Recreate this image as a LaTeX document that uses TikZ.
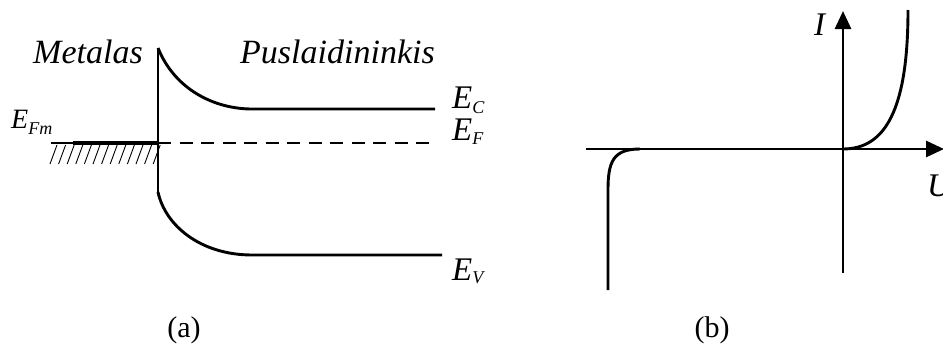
\documentclass[tikz,border=0pt]{standalone}
\usepackage{fontspec}
\setmainfont{Liberation Serif}
\usetikzlibrary{arrows.meta}
% E with a lowered italic subscript: {sub}{E size}{sub size}{lowering}
\newcommand\levlab[4]{{\fontsize{#2}{#2}\selectfont\textit{E}}\raisebox{#4}{\fontsize{#3}{#3}\selectfont\textit{#1}}}
\tikzset{
  curve/.style={line width=2.9pt},
  axis/.style={line width=2.9pt,-{Triangle[length=18pt,width=16pt]}},
  big/.style={inner sep=0pt,font=\fontsize{34}{40}\selectfont\itshape},
  lev/.style={inner sep=0pt,anchor=base west},
  captext/.style={inner sep=0pt,font=\fontsize{30}{36}\selectfont},
  hatch/.style={line width=0.9pt},
}
\begin{document}
\begin{tikzpicture}[x=1pt,y=-1pt]
\useasboundingbox (0,0) rectangle (943,343);
% ---- panel (a)
\coordinate (vtop) at (158,48);
\coordinate (vbot) at (158,192);
\coordinate (cend) at (252,109);
\coordinate (cright) at (435,109);
\coordinate (vend) at (252,255);
\coordinate (vright) at (442,255);
\coordinate (fleft) at (51,143);
\coordinate (fthick) at (73,143);
\coordinate (fmid) at (158,143);
\coordinate (fright) at (437,143);
\draw[curve] (vtop) -- (vbot);
\draw[curve] (vtop) .. controls (175,90) and (215,109) .. (cend) -- (cright);
\draw[curve] (vbot) .. controls (165,225) and (200,255) .. (vend) -- (vright);
\draw[line width=2.4pt] (fleft) -- (fthick);
\draw[line width=3.4pt] (fthick) -- (fmid);
\draw[line width=2.6pt,dash pattern=on 13pt off 8.5pt] (fmid) -- (fright);
\foreach \i in {0,...,12} \draw[hatch] (50+\i*8.6,164) -- (57+\i*8.6,145);
\node[big,anchor=base west] (metal) at (33,63) {Metalas};
\node[big,anchor=base west] (semi) at (240,63) {Puslaidininkis};
\node[lev] (EFm) at (11,128) {\levlab{Fm}{28}{18}{-6pt}};
\node[lev] (EC) at (452,108) {\levlab{C}{33}{18}{-5pt}};
\node[lev] (EF) at (452,140) {\levlab{F}{33}{18}{-4pt}};
\node[lev] (EV) at (452,280) {\levlab{V}{33}{18}{-3pt}};
\node[captext,anchor=base] (capa) at (184,337) {(a)};
% ---- panel (b)
\coordinate (ustart) at (586,149);
\coordinate (uend) at (944,149);
\coordinate (ibot) at (843,273);
\coordinate (itop) at (843,11);
\coordinate (orig) at (843,149);
\coordinate (rtop) at (908,10);
\coordinate (lstart) at (640,149);
\coordinate (lbend) at (608,190);
\coordinate (lbot) at (608,290);
\draw[axis] (ustart) -- (uend);
\draw[axis] (ibot) -- (itop);
\draw[curve] (orig) .. controls (885,149) and (908,110) .. (rtop);
\draw[curve] (lstart) .. controls (613,149) and (608,162) .. (lbend) -- (lbot);
\node[inner sep=0pt,anchor=base west,font=\fontsize{33}{40}\selectfont\itshape] (Ilab) at (814,35) {I};
\node[inner sep=0pt,anchor=base west,font=\fontsize{33}{40}\selectfont\itshape] (Ulab) at (927,196) {U};
\node[captext,anchor=base] (capb) at (712,337) {(b)};
\end{tikzpicture}
\end{document}
